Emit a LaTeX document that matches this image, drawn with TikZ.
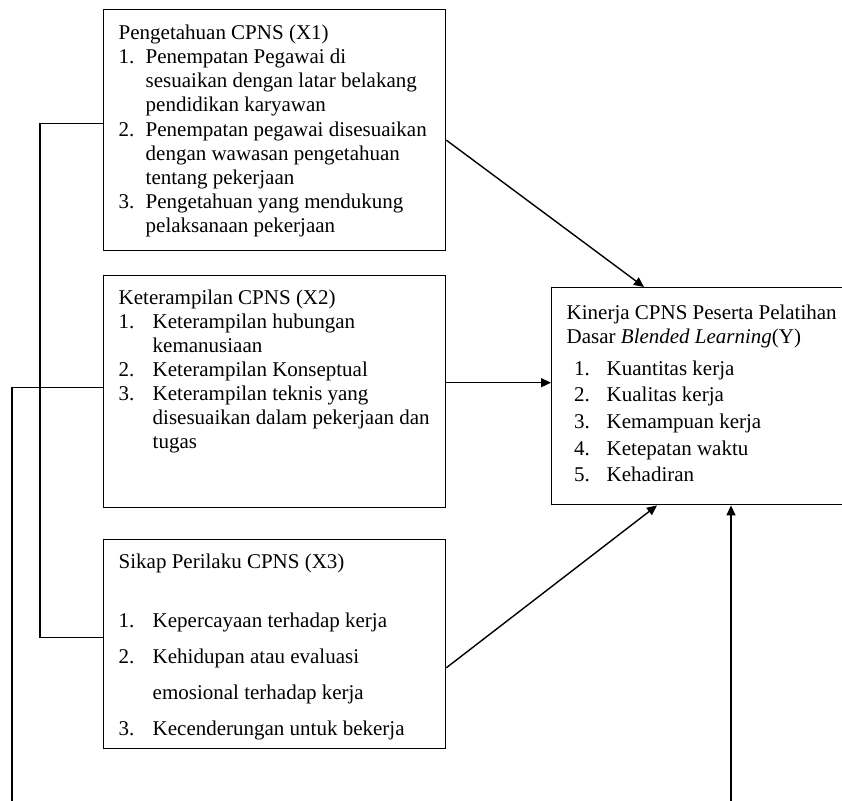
\documentclass[tikz,border=0pt]{standalone}
\usepackage{fontspec}
\setmainfont{Liberation Serif}
\usetikzlibrary{arrows.meta,calc}
\newcommand{\numlab}[2]{\makebox[#1][l]{#2}}
\newcommand{\boxbody}[5]{\parbox[t][#1][t]{#2}{\raggedright\leftskip=7.5pt\lineskiplimit=-20pt\baselineskip=#3\rule{0pt}{#4}#5}}

\begin{document}
\begin{tikzpicture}[x=0.5pt, y=-0.5pt,
    var/.style={rectangle, draw=black, line width=0.7pt, inner sep=0pt, anchor=north west, font=\fontsize{10.5}{12}\selectfont},
    arr/.style={-{Triangle[length=5pt, width=4.5pt]}, line width=0.7pt},
    link/.style={line width=0.7pt}
]
    \useasboundingbox (0,0) rectangle (842,800);

    \node[var] (x1) at (103,9) {\boxbody{120.5pt}{171pt}{12.1pt}{14.8pt}{%
        Pengetahuan CPNS (X1)\\
        \numlab{13.5pt}{1.}Penempatan Pegawai di\\
        \hspace*{13.5pt}sesuaikan dengan latar belakang\\
        \hspace*{13.5pt}pendidikan karyawan\\
        \numlab{13.5pt}{2.}Penempatan pegawai disesuaikan\\
        \hspace*{13.5pt}dengan wawasan pengetahuan\\
        \hspace*{13.5pt}tentang pekerjaan\\
        \numlab{13.5pt}{3.}Pengetahuan yang mendukung\\
        \hspace*{13.5pt}pelaksanaan pekerjaan}};
    \node[var] (x2) at (103,275) {\boxbody{116pt}{171pt}{12pt}{14.5pt}{%
        Keterampilan CPNS (X2)\\
        \numlab{17pt}{1.}Keterampilan hubungan\\
        \hspace*{17pt}kemanusiaan\\
        \numlab{17pt}{2.}Keterampilan Konseptual\\
        \numlab{17pt}{3.}Keterampilan teknis yang\\
        \hspace*{17pt}disesuaikan dalam pekerjaan dan\\
        \hspace*{17pt}tugas}};
    \node[var] (x3) at (103,539) {\boxbody{104.5pt}{171pt}{18pt}{14.5pt}{%
        Sikap Perilaku CPNS (X3)\\[11.5pt]
        \numlab{17pt}{1.}Kepercayaan terhadap kerja\\
        \numlab{17pt}{2.}Kehidupan atau evaluasi\\
        \hspace*{17pt}emosional terhadap kerja\\
        \numlab{17pt}{3.}Kecenderungan untuk bekerja}};
    \node[var] (y) at (551,287) {\boxbody{108.5pt}{160pt}{13.35pt}{15.8pt}{%
        Kinerja CPNS Peserta Pelatihan\\[-1.35pt]
        Dasar \textit{Blended Learning}(Y)\\[2.5pt]
        \hspace*{3.7pt}\numlab{16.3pt}{1.}Kuantitas kerja\\
        \hspace*{3.7pt}\numlab{16.3pt}{2.}Kualitas kerja\\
        \hspace*{3.7pt}\numlab{16.3pt}{3.}Kemampuan kerja\\
        \hspace*{3.7pt}\numlab{16.3pt}{4.}Ketepatan waktu\\
        \hspace*{3.7pt}\numlab{16.3pt}{5.}Kehadiran}};

    % loose ends at the bottom edge
    \coordinate (fa) at (12,805);
    \coordinate (fb) at (731,805);

    \draw[arr] ([yshift=-5pt]x1.east) -- ([xshift=46.5pt]y.north west);
    \draw[arr] ([yshift=4.5pt]x2.east) -- ([yshift=4.5pt]x2.east -| y.west);
    \draw[arr] ([yshift=-11.75pt]x3.east) -- ([xshift=53pt]y.south west);
    \draw[arr] (fb) -- (fb |- y.south);

    % side links
    \draw[link] ([yshift=3.25pt]x1.west) -- ++(-63,0) |- ([yshift=3.25pt]x3.west);
    \draw[link] ([yshift=2pt]x2.west) -| (fa);
\end{tikzpicture}
\end{document}
